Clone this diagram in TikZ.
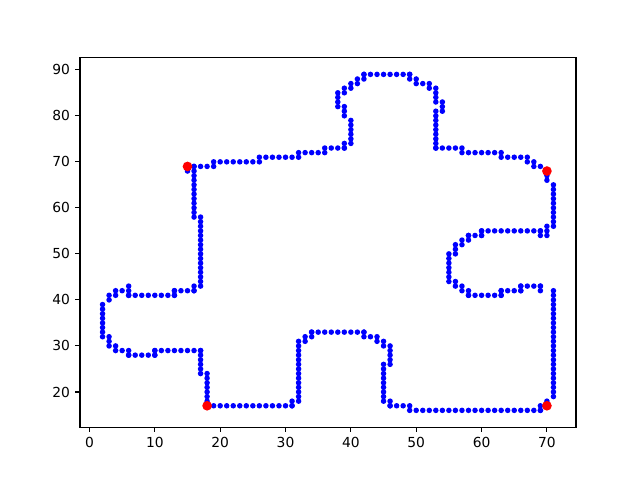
\documentclass[tikz,border=0pt]{standalone}
\usepackage{fontspec}
\setmainfont{DejaVu Sans}

\begin{document}
\begin{tikzpicture}[x=1.6599mm, y=1.16909mm,
  bluedot/.style={fill=blue},
  reddot/.style={fill=red},
  tickline/.style={line width=0.8pt},
  ticklabel/.style={font=\fontsize{10}{12}\selectfont, inner sep=0pt}]
\useasboundingbox (-13.692,0.879) rectangle (84.244,105.164);

% Outline points, horizontal runs: y / first x / last x
\foreach \y/\a/\b in {69/16/19, 70/19/26, 71/26/32, 72/32/36, 73/36/39,
    89/42/49, 73/53/57, 72/57/63, 71/63/67, 70/67/68, 69/68/69,
    55/60/69, 54/58/60, 41/58/63, 42/63/66, 43/66/69, 16/49/69,
    17/46/49, 33/34/42, 17/18/31, 29/10/17, 28/6/10, 41/6/13, 42/13/16} {
  \foreach \x in {\a,...,\b}
    \fill[bluedot] (\x,\y) circle (2pt);
}

% Outline points, vertical runs: x / first y / last y
\foreach \x/\a/\b in {16/58/69, 17/43/58, 16/42/43, 15/68/68,
    40/74/79, 39/73/74, 39/80/82, 38/82/85, 39/85/86, 40/86/87,
    41/87/88, 42/88/89, 49/88/89, 50/87/88, 51/87/87, 52/86/87,
    53/83/86, 54/81/83, 53/73/81, 70/66/68, 71/56/65, 70/54/56,
    69/54/55, 60/54/55, 58/53/54, 57/52/53, 56/50/52, 55/44/50,
    56/43/44, 57/42/43, 58/41/42, 63/41/42, 66/42/43, 69/42/43,
    71/19/42, 70/18/18, 69/16/17, 46/17/18, 45/18/26, 46/26/30,
    45/30/31, 44/31/32, 43/32/32, 42/32/33, 34/32/33, 33/31/32,
    32/18/31, 31/17/18, 18/17/24, 17/24/29, 10/28/29, 6/28/29,
    5/29/29, 4/29/30, 3/30/32, 2/32/39, 3/40/41, 4/41/42,
    5/42/42, 6/41/43, 13/41/42} {
  \foreach \y in {\a,...,\b}
    \fill[bluedot] (\x,\y) circle (2pt);
}

% Corner points
\foreach \x/\y in {15/69, 70/68, 18/17, 70/17}
  \fill[reddot] (\x,\y) circle (3.5pt);

% Axes frame
\draw[line width=0.8pt] (-1.45,12.35) rectangle (74.45,92.65);

% x ticks
\foreach \x in {0,10,...,70} {
  \draw[tickline] (\x,12.35) -- ++(0,-3.5pt);
  \node[ticklabel, anchor=north] (xl\x) at ([yshift=-7pt]\x,12.35) {\x};
}

% y ticks
\foreach \y in {20,30,...,90} {
  \draw[tickline] (-1.45,\y) -- ++(-3.5pt,0);
  \node[ticklabel, anchor=east] (yl\y) at ([xshift=-7pt]-1.45,\y) {\y};
}
\end{tikzpicture}
\end{document}
